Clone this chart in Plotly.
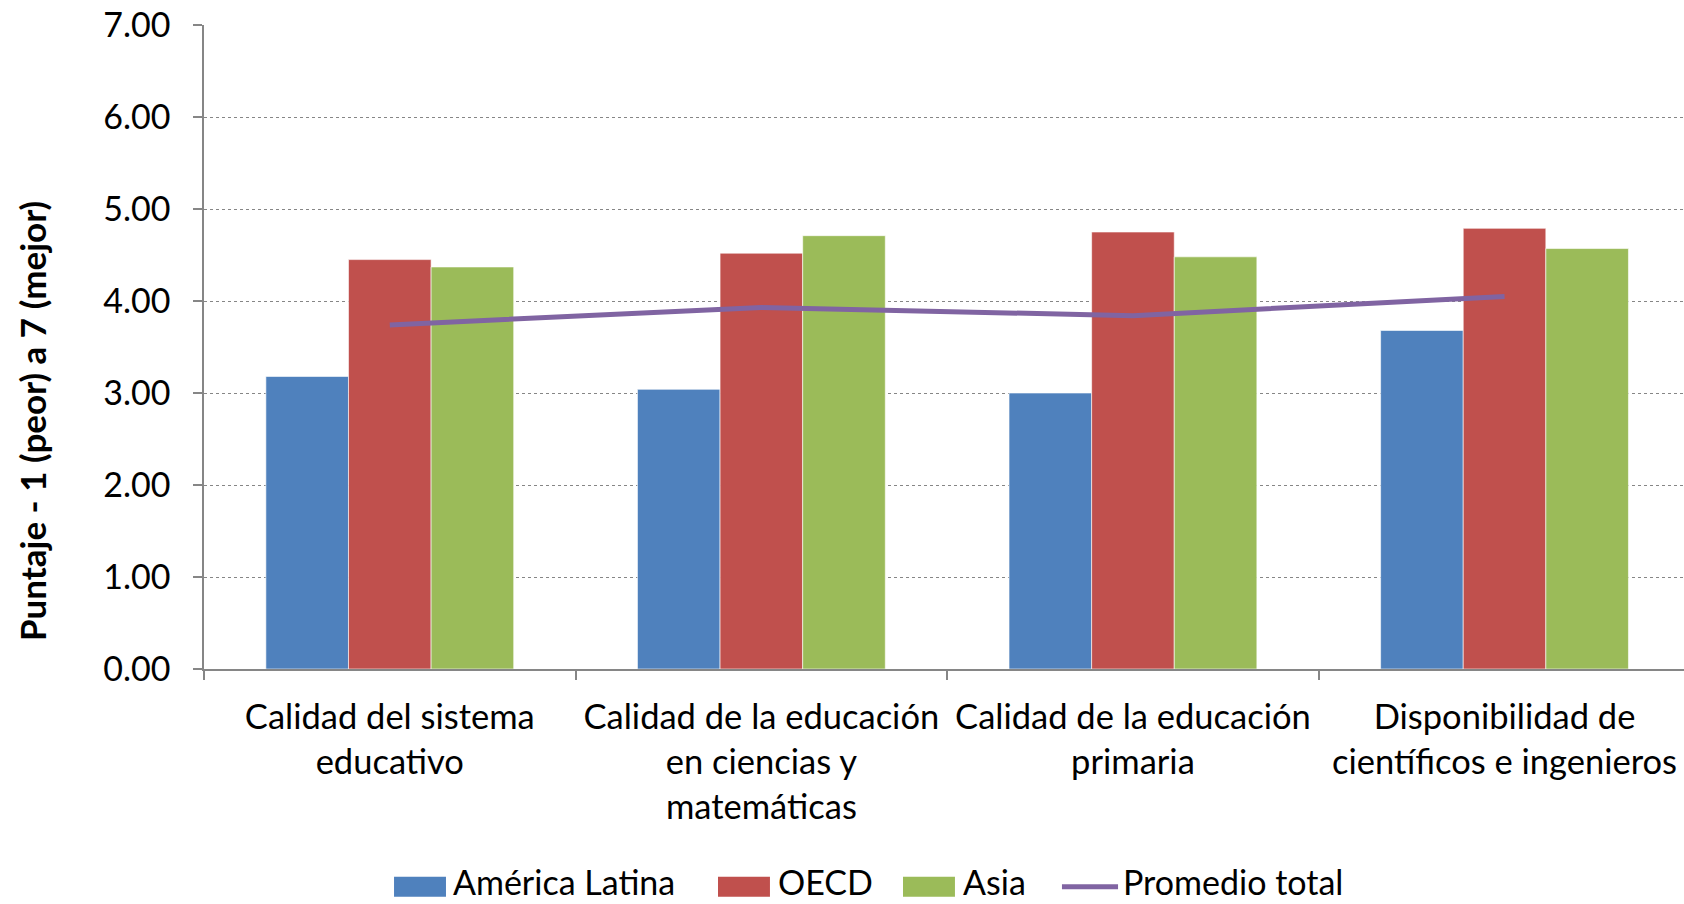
import plotly.graph_objects as go

categories = [
    "Calidad del sistema<br>educativo",
    "Calidad de la educación<br>en ciencias y<br>matemáticas",
    "Calidad de la educación<br>primaria",
    "Disponibilidad de<br>científicos e ingenieros",
]
america_latina = [3.18, 3.04, 3.00, 3.68]
oecd = [4.45, 4.52, 4.75, 4.79]
asia = [4.37, 4.71, 4.48, 4.57]
promedio_total = [3.74, 3.93, 3.84, 4.05]
y_ticks = [0, 1, 2, 3, 4, 5, 6, 7]

series_names = ["América Latina", "OECD", "Asia", "Promedio total"]
series_colors = ["#4F81BD", "#C0504D", "#9BBB59", "#8064A2"]

FONT = "Lato, Carlito, Calibri, sans-serif"
GREY = "#868686"

fig = go.Figure()
bar_line = dict(color="rgba(255,255,255,0.6)", width=1)
for name, vals, col in zip(series_names[:3], [america_latina, oecd, asia], series_colors[:3]):
    fig.add_trace(go.Bar(name=name, x=categories, y=vals,
                         marker=dict(color=col, line=bar_line), showlegend=False))
fig.add_trace(go.Scatter(name=series_names[3], x=categories, y=promedio_total,
                         mode="lines", line=dict(color=series_colors[3], width=5),
                         showlegend=False))

fig.update_layout(
    width=1684, height=904,
    margin=dict(l=204, r=0, t=25, b=235, pad=0, autoexpand=False),
    paper_bgcolor="white", plot_bgcolor="white",
    barmode="group", bargap=0.333, bargroupgap=0,
    font=dict(family=FONT, size=34, color="black"),
    showlegend=False,
)
fig.update_xaxes(
    type="category", range=[-0.5, 3.483], automargin=False,
    showline=True, linecolor=GREY, linewidth=1.5,
    ticks="outside", tickson="boundaries", ticklen=9, tickcolor=GREY, tickwidth=1.5,
    showgrid=False, tickfont=dict(family=FONT, size=34.5, color="black"),
    ticklabelstandoff=17,
)
fig.update_yaxes(
    range=[0, 7], tickvals=y_ticks, tickformat=".2f", automargin=False,
    showline=True, linecolor=GREY, linewidth=1.5,
    ticks="outside", ticklen=9, tickcolor=GREY, tickwidth=1.5,
    showgrid=True, gridcolor=GREY, griddash="dot", gridwidth=1,
    zeroline=False, tickfont=dict(family=FONT, size=34, color="black"),
    ticklabelstandoff=16,
)
fig.add_annotation(
    text="<b>Puntaje - 1 (peor) a 7 (mejor)</b>", textangle=-90,
    xref="paper", yref="paper", x=-0.1162, y=0.385,
    xanchor="center", yanchor="middle", showarrow=False,
    font=dict(family=FONT, size=35, color="black"),
)

# Custom legend (swatch sizes as in the reference), kept fully inside the page
legend_swatch_x = [(0.1284, 0.1635), (0.3473, 0.3824), (0.4723, 0.5074), (0.5797, 0.6176)]
legend_text_x = [0.1674, 0.3872, 0.5122, 0.6203]
leg_y0, leg_y1, leg_yc = -0.3536, -0.3225, -0.3380
leg_text_bottom = -0.3633
for i, (name, col) in enumerate(zip(series_names, series_colors)):
    x0, x1 = legend_swatch_x[i]
    if i < 3:
        fig.add_shape(type="rect", xref="paper", yref="paper",
                      x0=x0, x1=x1, y0=leg_y0, y1=leg_y1,
                      fillcolor=col, line=dict(width=0))
    else:
        fig.add_shape(type="line", xref="paper", yref="paper",
                      x0=x0, x1=x1, y0=leg_yc, y1=leg_yc,
                      line=dict(color=col, width=5))
    fig.add_annotation(text=name, xref="paper", yref="paper",
                       x=legend_text_x[i], y=leg_text_bottom, xanchor="left", yanchor="bottom",
                       showarrow=False, borderpad=0,
                       font=dict(family=FONT, size=34, color="black"))

fig.write_html("out.html")
